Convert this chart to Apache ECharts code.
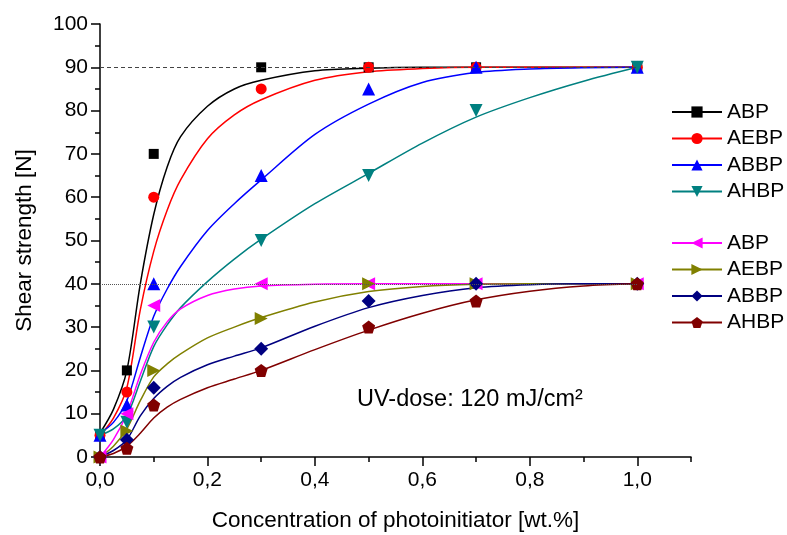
<!DOCTYPE html>
<html>
<head>
<meta charset="utf-8">
<script src="https://cdn.jsdelivr.net/npm/echarts@6.0.0/dist/echarts.min.js"></script>
<style>
  html, body { margin: 0; padding: 0; background: #fff; }
  #chart { width: 787px; height: 535px; }
</style>
</head>
<body>
<div id="chart"></div>
<script>
// measured concentrations [wt.%]
const xMeasured = [0, 0.05, 0.1, 0.3, 0.5, 0.7, 1.0];

// upper group (90 N plateau)
const abpHigh  = [5, 20, 70, 90, 90, 90, 90];
const aebpHigh = [5, 15, 60, 85, 90, 90, 90];
const abbpHigh = [5, 12, 40, 65, 85, 90, 90];
const ahbpHigh = [5, 8, 30, 50, 65, 80, 90];

// lower group (40 N plateau)
const abpLow  = [0, 10, 35, 40, 40, 40, 40];
const aebpLow = [0, 6, 20, 32, 40, 40, 40];
const abbpLow = [0, 4, 16, 25, 36, 40, 40];
const ahbpLow = [0, 2, 12, 20, 30, 36, 40];

// fitted curves
const xFit = [0, 0.025, 0.05, 0.075, 0.1, 0.125, 0.15, 0.2, 0.25, 0.3, 0.4, 0.5, 0.6, 0.7, 0.8, 0.9, 1.0];
const abpHighFit  = [5.5, 11, 20, 40, 56, 67, 74, 81, 85, 87, 89.2, 89.8, 90, 90, 90, 90, 90];
const aebpHighFit = [5, 9, 16, 34, 47.5, 57, 64, 73.5, 79, 82.5, 87, 89, 89.7, 90, 90, 90, 90];
const abbpHighFit = [5.5, 8, 13, 23, 32.5, 38.8, 44, 52.3, 58.5, 64, 74.5, 81.5, 86.5, 88.8, 89.6, 89.9, 90];
const ahbpHighFit = [5, 6.5, 9.5, 17.5, 25.5, 30.5, 34.5, 40.5, 45.7, 50.3, 58.5, 65.5, 72.5, 78.5, 83, 86.8, 90];
const abpLowFit  = [0, 4, 10, 19, 26.5, 31.2, 34.2, 37.3, 38.8, 39.5, 39.9, 40, 40, 40, 40, 40, 40];
const aebpLowFit = [0, 2.5, 6.5, 13, 18.5, 21.5, 23.8, 27.5, 30, 32.2, 35.8, 38.2, 39.4, 39.9, 40, 40, 40];
const abbpLowFit = [0, 1.5, 4, 9.5, 13.5, 16.3, 18.4, 21.3, 23.3, 25.2, 30.2, 34.5, 37.3, 39.1, 39.8, 40, 40];
const ahbpLowFit = [0, 0.8, 2.5, 5.5, 9, 11.5, 13.3, 16, 18, 20, 24.8, 29.3, 33.2, 36.3, 38.3, 39.5, 40];

const plateaus = [90, 40];
const xMajorTicks = [0, 0.2, 0.4, 0.6, 0.8, 1.0];
const xMinorTicks = [0.1, 0.3, 0.5, 0.7, 0.9, 1.1];
const namesHigh = ['ABP', 'AEBP', 'ABBP', 'AHBP'];
const namesLow = ['ABP ', 'AEBP ', 'ABBP ', 'AHBP '];

const pentagon = 'path://M0,-10L9.51,-3.09L5.88,8.09L-5.88,8.09L-9.51,-3.09Z';

const sets = [
  { name: namesHigh[0], color: '#000000', symbol: 'rect', size: 10, rotate: 0, pts: abpHigh, fit: abpHighFit },
  { name: namesHigh[1], color: '#ff0000', symbol: 'circle', size: 11, rotate: 0, pts: aebpHigh, fit: aebpHighFit },
  { name: namesHigh[2], color: '#0000ff', symbol: 'triangle', size: 13, rotate: 0, pts: abbpHigh, fit: abbpHighFit },
  { name: namesHigh[3], color: '#008080', symbol: 'triangle', size: 13, rotate: 180, pts: ahbpHigh, fit: ahbpHighFit },
  { name: namesLow[0], color: '#ff00ff', symbol: 'triangle', size: 13, rotate: 90, pts: abpLow, fit: abpLowFit },
  { name: namesLow[1], color: '#808000', symbol: 'triangle', size: 13, rotate: -90, pts: aebpLow, fit: aebpLowFit },
  { name: namesLow[2], color: '#000080', symbol: 'diamond', size: 14, rotate: 0, pts: abbpLow, fit: abbpLowFit },
  { name: namesLow[3], color: '#800000', symbol: pentagon, size: 13, rotate: 0, pts: ahbpLow, fit: ahbpLowFit },
];

const zip = (xs, ys) => xs.map((x, i) => [x, ys[i]]);
const fmtComma = v => v.toFixed(1).replace('.', ',');
const black = '#000';
const font = 'Liberation Sans';

const lineSeries = sets.map((s, i) => ({
  name: s.name,
  type: 'line',
  data: zip(xFit, s.fit),
  smooth: 0.3,
  showSymbol: false,
  symbol: s.symbol,
  symbolRotate: s.rotate,
  color: s.color,
  lineStyle: { width: 1.5, color: s.color },
  z: 2,
  markLine: i === 0 || i === 4 ? {
    silent: true,
    symbol: 'none',
    label: { show: false },
    lineStyle: {
      color: i === 0 ? '#444' : '#555',
      width: 1,
      type: i === 0 ? [4, 3] : [1, 1],
    },
    data: [[{ coord: [0, plateaus[i === 0 ? 0 : 1]] }, { coord: [1.0, plateaus[i === 0 ? 0 : 1]] }]],
  } : undefined,
}));

const pointSeries = sets.map(s => ({
  name: s.name,
  type: 'scatter',
  data: zip(xMeasured, s.pts),
  symbol: s.symbol,
  symbolSize: s.size,
  symbolRotate: s.rotate,
  itemStyle: { color: s.color, opacity: 1 },
  z: 3,
}));

const legendBase = {
  orient: 'vertical',
  left: 671,
  padding: 0,
  itemWidth: 50,
  itemHeight: 14,
  itemGap: 5.5,
  selectedMode: false,
  formatter: n => n.trim(),
  textStyle: { fontSize: 21, color: black, fontFamily: font },
};

const chart = echarts.init(document.getElementById('chart'));
chart.setOption({
  animation: false,
  backgroundColor: '#fff',
  textStyle: { fontFamily: font },
  grid: { left: 100, right: 96, top: 24, bottom: 78, outerBoundsMode: 'none' },
  legend: [
    { ...legendBase, top: 101.5, data: namesHigh },
    { ...legendBase, top: 232.5, data: namesLow },
  ],
  xAxis: [
    {
      type: 'value',
      min: 0,
      max: 1.1,
      name: 'Concentration of photoinitiator [wt.%]',
      nameLocation: 'middle',
      nameGap: 52,
      nameTextStyle: { fontSize: 22.5, color: black, fontFamily: font },
      axisLine: { show: true, onZero: false, lineStyle: { color: black, width: 1.5 } },
      axisTick: { show: true, customValues: xMajorTicks, length: 9, lineStyle: { color: black, width: 1.5 } },
      axisLabel: { customValues: xMajorTicks, formatter: fmtComma, fontSize: 21, color: black, margin: 13 },
      splitLine: { show: false },
    },
    {
      type: 'value',
      min: 0,
      max: 1.1,
      position: 'bottom',
      axisLine: { show: false },
      axisTick: { show: true, customValues: xMinorTicks, length: 5, lineStyle: { color: black, width: 1.5 } },
      axisLabel: { show: false },
      splitLine: { show: false },
    },
  ],
  yAxis: {
    type: 'value',
    min: 0,
    max: 100,
    interval: 10,
    name: 'Shear strength [N]',
    nameLocation: 'middle',
    nameGap: 64,
    nameTextStyle: { fontSize: 22.5, color: black, fontFamily: font },
    axisLine: { show: true, onZero: false, lineStyle: { color: black, width: 1.5 } },
    axisTick: { show: true, length: 9, lineStyle: { color: black, width: 1.5 } },
    minorTick: { show: true, splitNumber: 2, length: 5, lineStyle: { color: black, width: 1.5 } },
    axisLabel: { fontSize: 21, color: black, margin: 12 },
    splitLine: { show: false },
    minorSplitLine: { show: false },
  },
  graphic: [
    {
      type: 'text',
      left: 357,
      top: 388,
      style: { text: 'UV-dose: 120 mJ/cm²', fontSize: 23.5, fontFamily: font, fill: black },
    },
  ],
  series: [...lineSeries, ...pointSeries],
});
</script>
</body>
</html>
